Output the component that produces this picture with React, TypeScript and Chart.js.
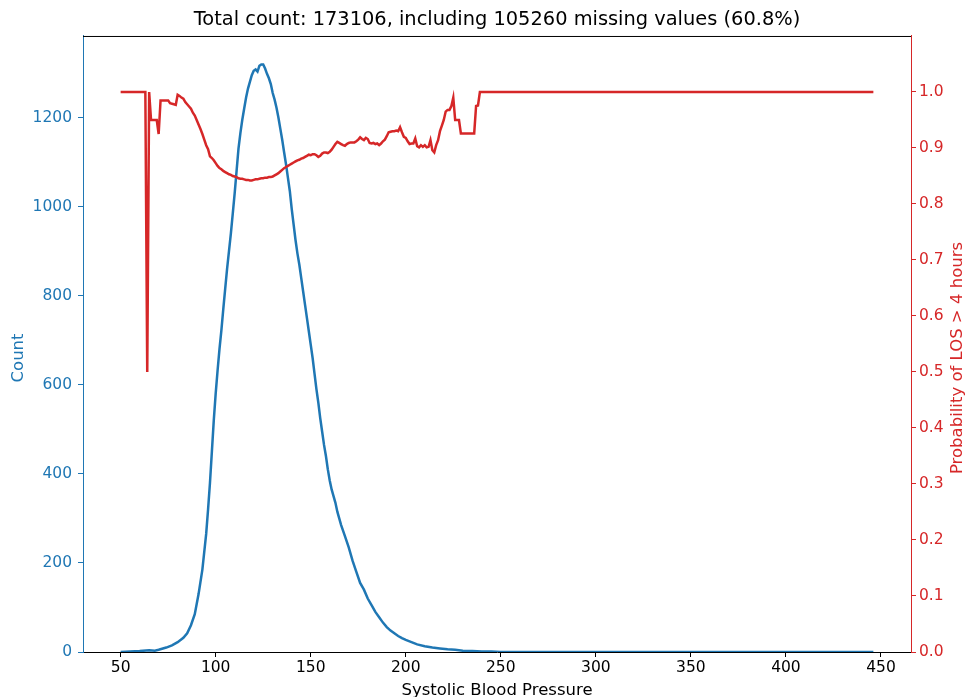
import React, { useEffect, useRef } from "react";
import { Chart, registerables } from "chart.js";

Chart.register(...registerables);

const TITLE = "Total count: 173106, including 105260 missing values (60.8%)";
const X_LABEL = "Systolic Blood Pressure";
const LEFT_LABEL = "Count";
const RIGHT_LABEL = "Probability of LOS > 4 hours";

const X_TICKS = [50, 100, 150, 200, 250, 300, 350, 400, 450];
const COUNT_TICKS = [0, 200, 400, 600, 800, 1000, 1200];
const PROB_TICKS = [0, 0.1, 0.2, 0.3, 0.4, 0.5, 0.6, 0.7, 0.8, 0.9, 1.0];

const COUNT_X = [
  50, 55, 60, 65, 68, 70, 74, 77, 80, 83, 85, 87, 89, 91, 93, 95, 96, 97, 98, 99,
  100, 101, 102, 103, 104, 105, 106, 107, 108, 109, 110, 111, 112, 113, 114, 115, 116, 117, 118, 119,
  120, 121, 122, 123, 124, 125, 126, 127, 128, 129, 130, 131, 132, 133, 134, 135, 136, 137, 138, 139,
  140, 141, 142, 143, 144, 145, 146, 147, 148, 149, 150, 151, 152, 153, 154, 155, 156, 157, 158, 159,
  160, 161, 162, 163, 164, 165, 166, 168, 170, 172, 174, 176, 178, 180, 182, 184, 186, 188, 190, 192,
  194, 196, 198, 200, 203, 206, 210, 214, 218, 222, 226, 230, 235, 240, 245, 250, 300, 350, 400, 446,
];
const COUNT_VALUES = [
  0, 1, 2, 4, 3, 5, 10, 15, 22, 32, 42, 60, 85, 130, 185, 265, 320, 380, 450, 520,
  580, 632, 680, 722, 770, 815, 860, 900, 940, 985, 1030, 1080, 1130, 1165, 1195, 1220, 1245, 1265, 1280, 1295,
  1305, 1308, 1303, 1316, 1319, 1319, 1310, 1298, 1288, 1275, 1255, 1240, 1222, 1200, 1175, 1150, 1122, 1095, 1065, 1035,
  995, 960, 925, 895, 870, 840, 810, 780, 750, 720, 690, 660, 625, 590, 560, 525, 495, 465, 440, 410,
  385, 365, 350, 335, 315, 300, 285, 260, 235, 205, 180, 155, 140, 120, 105, 90, 78, 66, 56, 48,
  42, 36, 31, 27, 22, 17, 13, 10, 8, 6, 5, 3, 2, 1, 1, 0, 0, 0, 0, 0,
];

const PROB_X = [
  50, 63, 64, 65, 66, 69, 70, 71, 75, 76, 78, 79, 80, 81, 82, 83, 84, 85, 86, 87,
  88, 89, 90, 91, 92, 93, 94, 95, 96, 97, 98, 99, 100, 101, 102, 103, 104, 105, 106, 107,
  108, 109, 110, 111, 112, 113, 114, 115, 116, 117, 118, 119, 120, 121, 122, 123, 124, 125, 126, 127,
  128, 129, 130, 131, 132, 133, 134, 135, 136, 137, 138, 139, 140, 141, 142, 143, 144, 145, 146, 147,
  148, 149, 150, 151, 152, 153, 154, 155, 156, 157, 158, 159, 160, 161, 162, 163, 164, 165, 166, 167,
  168, 169, 170, 171, 172, 173, 174, 175, 176, 177, 178, 179, 180, 181, 182, 183, 184, 185, 186, 187,
  188, 189, 190, 191, 192, 193, 194, 195, 196, 197, 198, 199, 200, 201, 202, 203, 204, 205, 206, 207,
  208, 209, 210, 211, 212, 213, 214, 215, 216, 217, 218, 219, 220, 221, 222, 223, 224, 225, 226, 227,
  228, 229, 236, 237, 238, 239, 446,
];
const PROB_VALUES = [
  1.0, 1.0, 0.5, 1.0, 0.95, 0.95, 0.925, 0.985, 0.985, 0.98, 0.978, 0.977, 0.995, 0.993, 0.99, 0.988, 0.982, 0.978, 0.974, 0.97,
  0.963, 0.958, 0.95, 0.942, 0.934, 0.925, 0.915, 0.905, 0.898, 0.885, 0.882, 0.878, 0.873, 0.868, 0.864, 0.862, 0.859, 0.857, 0.855, 0.853,
  0.852, 0.85, 0.849, 0.848, 0.846, 0.845, 0.845, 0.844, 0.843, 0.843, 0.842, 0.842, 0.843, 0.844, 0.844, 0.845, 0.846, 0.846, 0.847, 0.847,
  0.848, 0.848, 0.849, 0.851, 0.853, 0.855, 0.858, 0.861, 0.864, 0.866, 0.868, 0.87, 0.872, 0.874, 0.876, 0.878, 0.879, 0.881, 0.882, 0.884,
  0.886, 0.888, 0.887, 0.889, 0.889, 0.887, 0.884, 0.886, 0.89, 0.892, 0.892, 0.891, 0.893, 0.897, 0.902, 0.907, 0.911, 0.909, 0.907, 0.905,
  0.904, 0.907, 0.909, 0.91, 0.91, 0.91, 0.912, 0.915, 0.919, 0.916, 0.914, 0.918, 0.916, 0.909, 0.908, 0.909, 0.907, 0.908, 0.905, 0.908,
  0.912, 0.915, 0.921, 0.928, 0.929, 0.93, 0.93, 0.931, 0.93, 0.937, 0.928, 0.92, 0.918, 0.912, 0.907, 0.908, 0.908, 0.917, 0.903, 0.901,
  0.905, 0.902, 0.905, 0.901, 0.902, 0.914, 0.896, 0.892, 0.905, 0.914, 0.93, 0.94, 0.95, 0.965, 0.968, 0.968, 0.975, 0.99, 0.95, 0.95,
  0.95, 0.926, 0.926, 0.975, 0.976, 1.0, 1.0,
];

const BLUE = "#1f77b4";
const RED = "#d62728";
const FONT = "DejaVu Sans";
const TICK_SIZE = 15.5;
const LABEL_SIZE = 16.5;

const frame = {
  id: "frameAndLabels",
  afterDraw(chart: any) {
    const { ctx, chartArea } = chart;
    ctx.save();
    ctx.strokeStyle = "#000";
    ctx.lineWidth = 1;
    ctx.beginPath();
    ctx.moveTo(chartArea.left, chartArea.top + 0.5);
    ctx.lineTo(chartArea.right, chartArea.top + 0.5);
    ctx.stroke();

    ctx.font = `${LABEL_SIZE}px "${FONT}"`;
    ctx.textAlign = "center";
    ctx.textBaseline = "middle";
    const midY = (chartArea.top + chartArea.bottom) / 2 + 14;

    ctx.fillStyle = BLUE;
    ctx.save();
    ctx.translate(19, midY);
    ctx.rotate(-Math.PI / 2);
    ctx.fillText(LEFT_LABEL, 0, 0);
    ctx.restore();

    ctx.fillStyle = RED;
    ctx.save();
    ctx.translate(chart.width - 7, midY);
    ctx.rotate(-Math.PI / 2);
    ctx.fillText(RIGHT_LABEL, 0, 0);
    ctx.restore();

    ctx.fillStyle = "#000";
    ctx.fillText(X_LABEL, (chartArea.left + chartArea.right) / 2, chart.height - 6);
    ctx.restore();
  },
};

export default function App() {
  const ref = useRef<HTMLCanvasElement | null>(null);

  useEffect(() => {
    if (!ref.current) return;
    const countData = COUNT_X.map((x, i) => ({ x, y: COUNT_VALUES[i] }));
    const probData = PROB_X.map((x, i) => ({ x, y: PROB_VALUES[i] }));
    const chart = new Chart(ref.current, {
      type: "scatter",
      data: {
        datasets: [
          {
            label: "prob",
            data: probData,
            yAxisID: "y1",
            showLine: true,
            borderColor: RED,
            backgroundColor: RED,
            borderWidth: 2.5,
            pointRadius: 0,
            tension: 0,
          },
          {
            label: "count",
            data: countData,
            yAxisID: "y",
            showLine: true,
            borderColor: BLUE,
            backgroundColor: BLUE,
            borderWidth: 2.5,
            pointRadius: 0,
            tension: 0,
          },
        ],
      },
      options: {
        responsive: false,
        animation: false,
        devicePixelRatio: 1,
        layout: { padding: 0 },
        plugins: {
          legend: { display: false },
          tooltip: { enabled: false },
          title: {
            display: true,
            fullSize: false,
            text: TITLE,
            color: "#000",
            font: { family: FONT, size: 19.4, weight: "normal", lineHeight: 1.2 },
            padding: { top: 8, bottom: 4.7 },
          },
        },
        scales: {
          x: {
            type: "linear",
            min: 30.2,
            max: 465.8,
            afterBuildTicks: (s: any) => {
              s.ticks = X_TICKS.map((v) => ({ value: v }));
            },
            afterFit: (s: any) => {
              s.height = 45;
            },
            ticks: {
              color: "#000",
              font: { family: FONT, size: TICK_SIZE },
              padding: 2,
              maxRotation: 0,
              callback: (v: any) => String(v),
            },
            grid: { drawOnChartArea: false, drawTicks: true, tickLength: 5, color: "#000" },
            border: { color: "#000", width: 1 },
          },
          y: {
            type: "linear",
            position: "left",
            min: 0,
            max: 1383,
            afterBuildTicks: (s: any) => {
              s.ticks = COUNT_TICKS.map((v) => ({ value: v }));
            },
            afterFit: (s: any) => {
              s.width = 83;
            },
            ticks: {
              color: BLUE,
              font: { family: FONT, size: TICK_SIZE },
              padding: 6,
              callback: (v: any) => String(v),
            },
            grid: { drawOnChartArea: false, drawTicks: true, tickLength: 5, color: BLUE },
            border: { color: BLUE, width: 1 },
          },
          y1: {
            type: "linear",
            position: "right",
            min: 0,
            max: 1.1,
            afterBuildTicks: (s: any) => {
              s.ticks = PROB_TICKS.map((v) => ({ value: v }));
            },
            afterFit: (s: any) => {
              s.width = 54;
            },
            ticks: {
              color: RED,
              font: { family: FONT, size: TICK_SIZE },
              padding: 3,
              callback: (v: any) => Number(v).toFixed(1),
            },
            grid: { drawOnChartArea: false, drawTicks: true, tickLength: 5, color: RED },
            border: { color: RED, width: 1 },
          },
        },
      },
      plugins: [frame],
    } as any);
    return () => chart.destroy();
  }, []);

  return (
    <div style={{ position: "fixed", left: 0, top: 0, width: 965, height: 697, background: "#fff" }}>
      <canvas ref={ref} width={965} height={697} style={{ display: "block" }} />
    </div>
  );
}
